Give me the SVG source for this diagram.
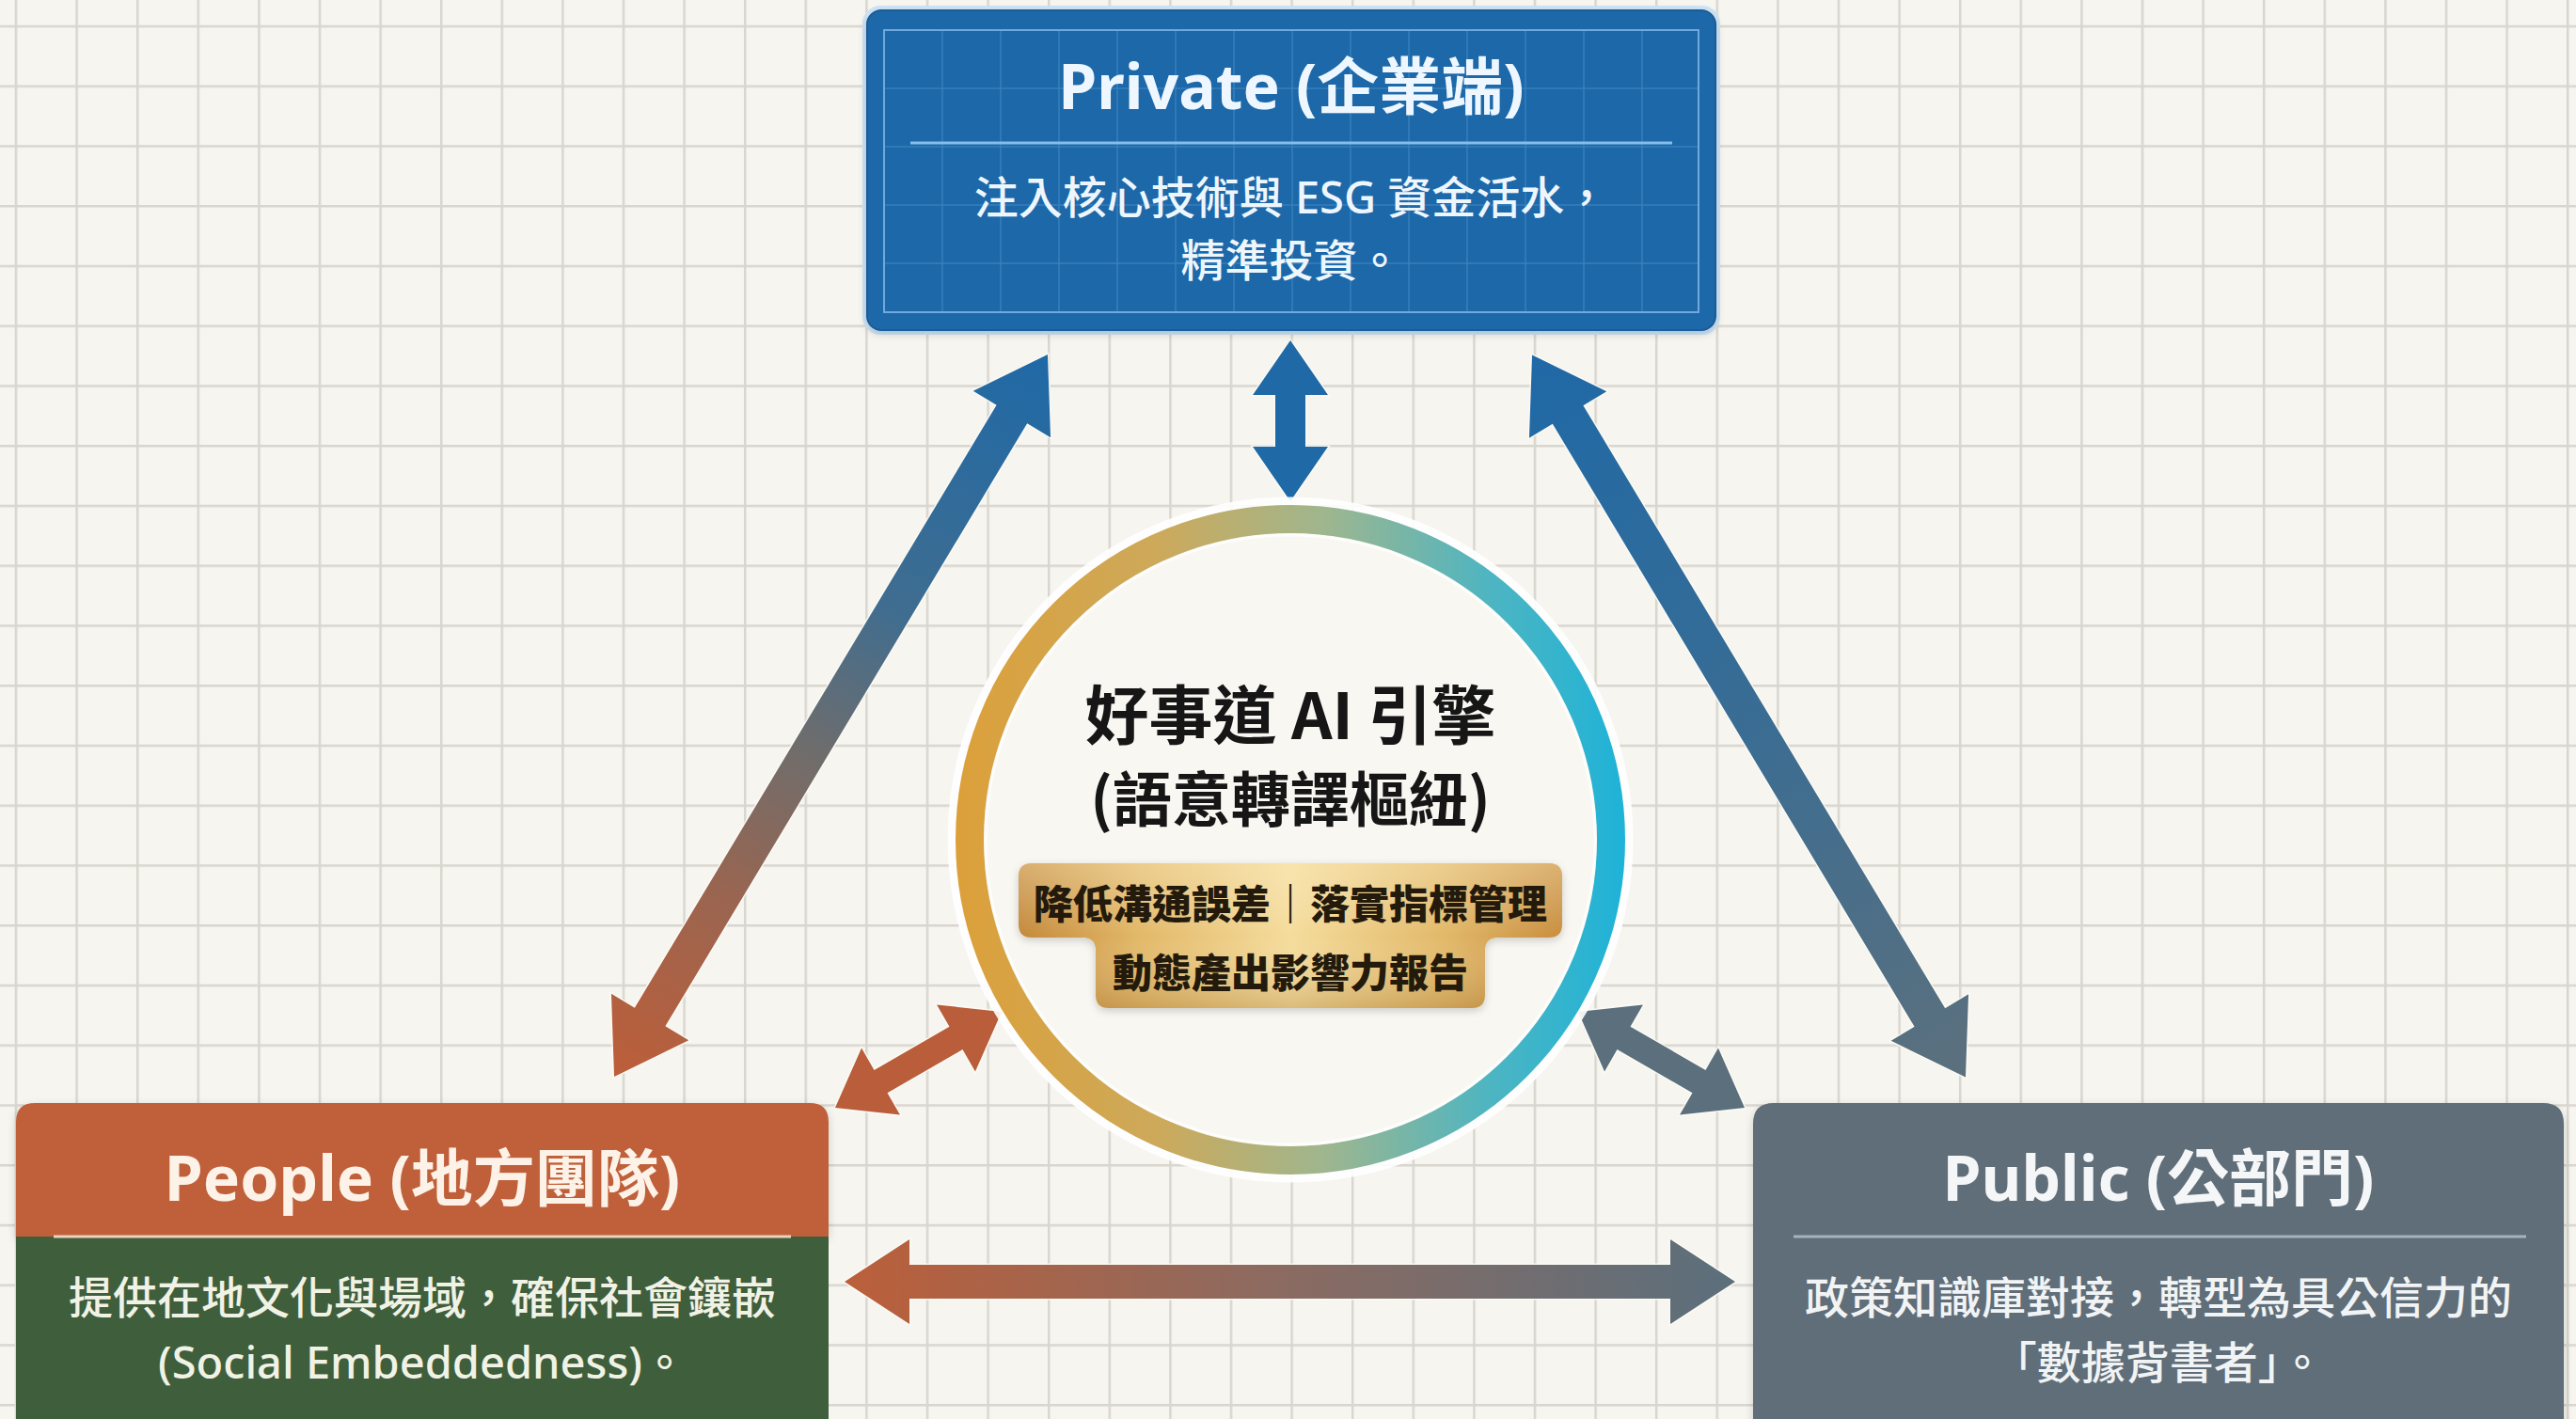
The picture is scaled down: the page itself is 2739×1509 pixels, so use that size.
<svg xmlns="http://www.w3.org/2000/svg" width="2739" height="1509" viewBox="0 0 2739 1509">
<style>
.ttl{font-family:"Noto Sans","Noto Sans CJK TC",sans-serif;font-weight:700;font-size:66px;text-anchor:middle}
.body{font-family:"Noto Sans","Noto Sans CJK TC",sans-serif;font-weight:500;font-size:47px;text-anchor:middle}
.core{font-family:"Noto Sans CJK TC","Noto Sans",sans-serif;font-weight:700;text-anchor:middle;fill:#161616}
.badge{font-family:"Noto Sans CJK TC",sans-serif;font-weight:900;font-size:42px;text-anchor:middle;fill:#241a0c}
.arrow{stroke:#fbfaf5;stroke-width:3;stroke-opacity:0.85;stroke-linejoin:miter;paint-order:stroke}
</style>
<defs>
<pattern id="grid" x="15.75" y="26.75" width="64.6" height="63.75" patternUnits="userSpaceOnUse">
<path d="M1.25 0V63.75M0 1.25H64.6" stroke="#d9d6cf" stroke-width="2.5" fill="none"/>
</pattern>
<pattern id="gridB" x="939" y="31" width="62" height="62" patternUnits="userSpaceOnUse">
<path d="M1 0V62M0 1H62" stroke="#4d8fcb" stroke-width="1.5" stroke-opacity="0.55" fill="none"/>
</pattern>
<linearGradient id="ring" gradientUnits="userSpaceOnUse" x1="1017" y1="0" x2="1727" y2="0">
<stop offset="0" stop-color="#dca03a"/>
<stop offset="0.3" stop-color="#cda95a"/>
<stop offset="0.55" stop-color="#9fb68e"/>
<stop offset="0.8" stop-color="#4db5c2"/>
<stop offset="1" stop-color="#1eb3d8"/>
</linearGradient>
<linearGradient id="gold" x1="0" y1="0" x2="1" y2="0">
<stop offset="0" stop-color="#c4893a"/>
<stop offset="0.22" stop-color="#e2b868"/>
<stop offset="0.5" stop-color="#f5dc9b"/>
<stop offset="0.78" stop-color="#e2b96a"/>
<stop offset="1" stop-color="#c98e3e"/>
</linearGradient>
<linearGradient id="goldV" x1="0" y1="0" x2="0" y2="1">
<stop offset="0" stop-color="#fff3cf" stop-opacity="0.35"/>
<stop offset="0.5" stop-color="#ffffff" stop-opacity="0"/>
<stop offset="1" stop-color="#8a5a1c" stop-opacity="0.25"/>
</linearGradient>
<linearGradient id="gLeft" x1="0" y1="0" x2="1" y2="0">
<stop offset="0" stop-color="#1f69a7"/>
<stop offset="0.35" stop-color="#3f6d90"/>
<stop offset="0.55" stop-color="#6f6d6c"/>
<stop offset="0.75" stop-color="#9a6550"/>
<stop offset="1" stop-color="#bd5e39"/>
</linearGradient>
<linearGradient id="gRight" x1="0" y1="0" x2="1" y2="0">
<stop offset="0" stop-color="#1f69a7"/>
<stop offset="0.4" stop-color="#336c98"/>
<stop offset="1" stop-color="#5c707d"/>
</linearGradient>
<linearGradient id="gBottom" x1="0" y1="0" x2="1" y2="0">
<stop offset="0" stop-color="#bb5f3a"/>
<stop offset="0.5" stop-color="#8a6b62"/>
<stop offset="1" stop-color="#5b6f7c"/>
</linearGradient>
<filter id="shadow" x="-10%" y="-10%" width="120%" height="130%">
<feDropShadow dx="0" dy="3" stdDeviation="4" flood-color="#000" flood-opacity="0.18"/>
</filter>
</defs>

<rect width="2739" height="1509" fill="#f6f5f0"/>
<rect width="2739" height="1509" fill="url(#grid)"/>

<g id="connectors">
<polygon class="arrow" fill="#1f69a6" transform="translate(1372 447.5) rotate(90)" points="-85.5,0 -27.5,-40 -27.5,-16 27.5,-16 27.5,-40 85.5,0 27.5,40 27.5,16 -27.5,16 -27.5,40"/>
<polygon class="arrow" fill="url(#gLeft)" transform="translate(883.5 761) rotate(120.97)" points="-447.85,0 -373.85,-48 -373.85,-19 373.85,-19 373.85,-48 447.85,0 373.85,48 373.85,19 -373.85,19 -373.85,48"/>
<polygon class="arrow" fill="url(#gRight)" transform="translate(1859.5 761.5) rotate(59.03)" points="-447.85,0 -373.85,-48 -373.85,-19 373.85,-19 373.85,-48 447.85,0 373.85,48 373.85,19 -373.85,19 -373.85,48"/>
<polygon class="arrow" fill="url(#gBottom)" transform="translate(1371.5 1363)" points="-473.5,0 -404.5,-45 -404.5,-18 404.5,-18 404.5,-45 473.5,0 404.5,45 404.5,18 -404.5,18 -404.5,45"/>
<polygon class="arrow" fill="#b95d3a" transform="translate(976.5 1127) rotate(-29.95)" points="-102.15,0 -46.15,-41 -46.15,-14 46.15,-14 46.15,-41 102.15,0 46.15,41 46.15,14 -46.15,14 -46.15,41"/>
<polygon class="arrow" fill="#5b6f7d" transform="translate(1766.5 1127) rotate(29.95)" points="-102.15,0 -46.15,-41 -46.15,-14 46.15,-14 46.15,-41 102.15,0 46.15,41 46.15,14 -46.15,14 -46.15,41"/>
</g>

<g id="private">
<rect x="919" y="8" width="908" height="346" rx="17" fill="none" stroke="#cfe6f7" stroke-width="4"/>
<rect x="922" y="11" width="902" height="340" rx="15" fill="#1f67a9" stroke="#1a5b98" stroke-width="2" filter="url(#shadow)"/>
<rect x="940" y="32" width="866" height="300" fill="url(#gridB)"/>
<rect x="940" y="32" width="866" height="300" fill="none" stroke="#6fa9dd" stroke-width="2"/>
<text class="ttl" x="1373" y="116" fill="#eef7ff">Private (企業端)</text>
<line x1="968" y1="152" x2="1778" y2="152" stroke="#86bde8" stroke-width="3"/>
<text class="body" x="1373" y="227" fill="#eef6fd">注入核心技術與 ESG 資金活水，</text>
<text class="body" x="1373" y="294" fill="#eef6fd">精準投資。</text>
</g>

<g id="people">
<path d="M17 1315V1193Q17 1173 37 1173H861Q881 1173 881 1193V1315Z" fill="#c0613b" filter="url(#shadow)"/>
<rect x="17" y="1315" width="864" height="210" fill="#3f5e3b"/>
<line x1="57" y1="1315" x2="841" y2="1315" stroke="#ecd3bd" stroke-width="3"/>
<text class="ttl" x="449" y="1277" fill="#fdf2e7">People (地方團隊)</text>
<text class="body" x="449" y="1397" fill="#f1f2e6">提供在地文化與場域，確保社會鑲嵌</text>
<text class="body" x="449" y="1466" fill="#f1f2e6">(Social Embeddedness)。</text>
</g>

<g id="public">
<path d="M1864 1525V1195Q1864 1173 1886 1173H2704Q2726 1173 2726 1195V1525Z" fill="#5e6e79" filter="url(#shadow)"/>
<line x1="1907" y1="1315" x2="2686" y2="1315" stroke="#a6b3bd" stroke-width="3"/>
<text class="ttl" x="2295" y="1277" fill="#f4f6f7">Public (公部門)</text>
<text class="body" x="2295" y="1397" fill="#f1f3f4">政策知識庫對接，轉型為具公信力的</text>
<text class="body" x="2295" y="1466" fill="#f1f3f4">「數據背書者」。</text>
</g>

<g id="core">
<circle cx="1372" cy="893" r="360" fill="none" stroke="#ffffff" stroke-width="9" stroke-opacity="0.9"/>
<circle cx="1372" cy="893" r="341" fill="#f8f7f2" stroke="url(#ring)" stroke-width="30"/>
<circle cx="1372" cy="893" r="324" fill="none" stroke="#ffffff" stroke-width="3" stroke-opacity="0.7"/>
<text class="core" x="1372" y="786" font-size="68">好事道 AI 引擎</text>
<text class="core" x="1372" y="873" font-size="63">(語意轉譯樞紐)</text>
<g filter="url(#shadow)">
<path d="M1097 918H1647Q1661 918 1661 932V983Q1661 997 1647 997H1593Q1579 997 1579 1011V1058Q1579 1072 1565 1072H1179Q1165 1072 1165 1058V1011Q1165 997 1151 997H1097Q1083 997 1083 983V932Q1083 918 1097 918Z" fill="url(#gold)"/>
</g>
<path d="M1097 918H1647Q1661 918 1661 932V983Q1661 997 1647 997H1593Q1579 997 1579 1011V1058Q1579 1072 1565 1072H1179Q1165 1072 1165 1058V1011Q1165 997 1151 997H1097Q1083 997 1083 983V932Q1083 918 1097 918Z" fill="url(#goldV)"/>
<text class="badge" x="1372" y="977">降低溝通誤差｜落實指標管理</text>
<text class="badge" x="1372" y="1050">動態產出影響力報告</text>
</g>
</svg>
